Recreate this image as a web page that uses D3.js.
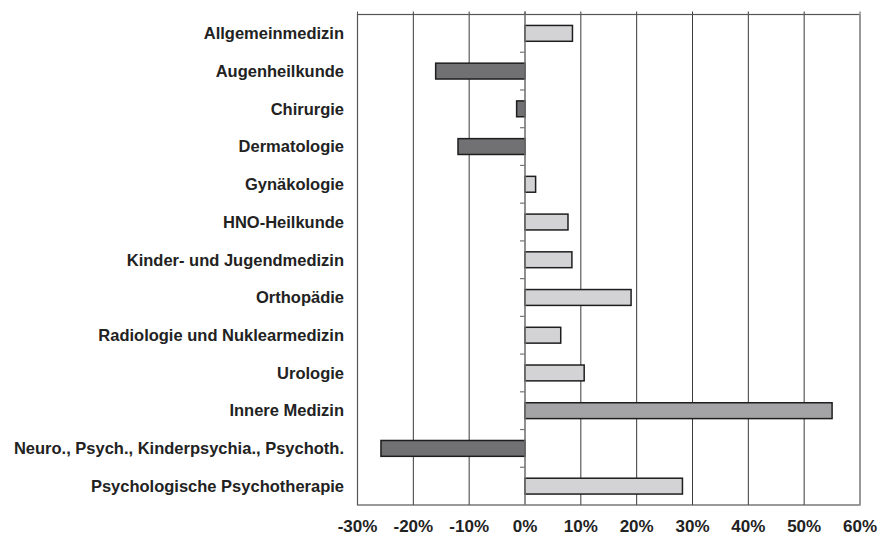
<!DOCTYPE html>
<html><head><meta charset="utf-8">
<script src="https://cdn.jsdelivr.net/npm/d3@7"></script>
<style>body{margin:0;background:#fff;}svg{display:block;}</style>
</head><body>
<script>
const categories = ["Allgemeinmedizin","Augenheilkunde","Chirurgie","Dermatologie","Gynäkologie","HNO-Heilkunde","Kinder- und Jugendmedizin","Orthopädie","Radiologie und Nuklearmedizin","Urologie","Innere Medizin","Neuro., Psych., Kinderpsychia., Psychoth.","Psychologische Psychotherapie"];
const values = [8.5,-16,-1.5,-12,1.9,7.7,8.4,19.0,6.4,10.6,55,-25.8,28.2];
const tones = ["light","dark","dark","dark","light","light","light","light","light","light","mid","dark","light"];
const tickValues = [-30,-20,-10,0,10,20,30,40,50,60];
const tickLabels = ["-30%","-20%","-10%","0%","10%","20%","30%","40%","50%","60%"];

const W = 880, H = 535;
const m = {left:357.5, right:20, top:14.5, bottom:30};
const svg = d3.select("body").append("svg").attr("width",W).attr("height",H);
const x = d3.scaleLinear().domain([-30,60]).range([m.left, W-m.right]);
const y = d3.scaleBand().domain(categories).range([m.top, H-m.bottom]).paddingInner(0.58).paddingOuter(0.29);
const band = d3.scaleBand().domain(categories).range([m.top, H-m.bottom]);
const fill = {light:"#d3d3d5", dark:"#717174", mid:"#a4a4a7"};

// gridlines
svg.append("g").selectAll("line").data(tickValues.filter(v=>v!==-30 && v!==60)).join("line")
  .attr("x1",d=>x(d)).attr("x2",d=>x(d)).attr("y1",m.top-3).attr("y2",H-m.bottom)
  .attr("stroke","#3a3a3a").attr("stroke-width",1);
// border
svg.append("rect").attr("x",m.left).attr("y",m.top).attr("width",x(60)-m.left).attr("height",H-m.bottom-m.top)
  .attr("fill","none").attr("stroke","#555").attr("stroke-width",1.2);
svg.append("line").attr("x1",x(60)).attr("x2",x(60)).attr("y1",m.top-3).attr("y2",H-m.bottom).attr("stroke","#999").attr("stroke-width",1.6);
svg.append("line").attr("x1",x(-30)).attr("x2",x(-30)).attr("y1",m.top-3).attr("y2",m.top).attr("stroke","#555");

// bars
svg.append("g").selectAll("rect").data(categories).join("rect")
  .attr("x",(d,i)=>x(Math.min(0,values[i])))
  .attr("width",(d,i)=>Math.abs(x(values[i])-x(0)))
  .attr("y",d=>y(d)).attr("height",y.bandwidth())
  .attr("fill",(d,i)=>fill[tones[i]]).attr("stroke","#1e1e1e").attr("stroke-width",1.5);

// zero axis with category ticks
svg.append("line").attr("x1",x(0)).attr("x2",x(0)).attr("y1",m.top).attr("y2",H-m.bottom).attr("stroke","#888").attr("stroke-width",1.2);
svg.append("g").selectAll("line").data(categories.slice(1)).join("line")
  .attr("x1",x(0)-5).attr("x2",x(0)).attr("y1",d=>band(d)).attr("y2",d=>band(d))
  .attr("stroke","#777").attr("stroke-width",1.2);
svg.append("line").attr("x1",x(0)).attr("x2",x(0)).attr("y1",m.top-3).attr("y2",m.top).attr("stroke","#555");

// category labels
svg.append("g").selectAll("text").data(categories).join("text")
  .attr("x",344).attr("y",d=>band(d)+band.bandwidth()/2).attr("dy","0.35em")
  .attr("text-anchor","end").attr("font-family","Liberation Sans, Arial, sans-serif")
  .attr("font-weight","bold").attr("font-size","16.5px").attr("fill","#222").text(d=>d);

// x tick labels
svg.append("g").selectAll("text").data(tickValues).join("text")
  .attr("x",d=>x(d)).attr("y",H-m.bottom+27).attr("text-anchor","middle")
  .attr("font-family","Liberation Sans, Arial, sans-serif").attr("font-weight","bold")
  .attr("font-size","17px").attr("fill","#222").text((d,i)=>tickLabels[i]);
</script>
</body></html>
